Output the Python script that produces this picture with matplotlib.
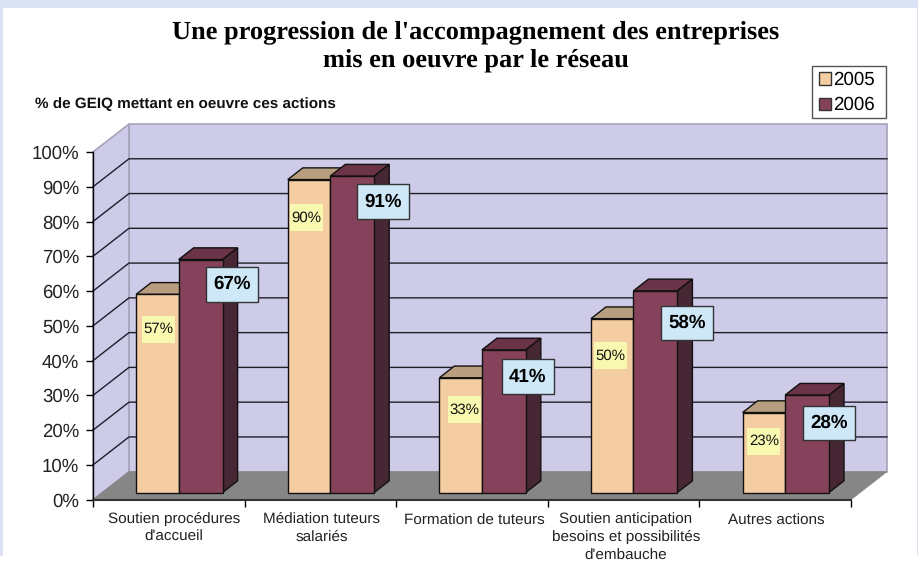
import matplotlib
matplotlib.use("Agg")
from matplotlib import pyplot as plt
from matplotlib.patches import Polygon, Rectangle, Patch

categories = ["Soutien procédures\nd'accueil", "Médiation tuteurs\nsalariés", "Formation de tuteurs",
              "Soutien anticipation\nbesoins et possibilités\nd'embauche", "Autres actions"]
val_2005 = [57, 90, 33, 50, 23]
val_2006 = [67, 91, 41, 58, 28]
y_ticks = [0, 10, 20, 30, 40, 50, 60, 70, 80, 90, 100]

# label offsets from the bar centre / top, in pixels
low_dx = [1, -2.5, 4, -1.7, 0]
low_dy = [34.8, 38, 32, 37, 28.5]
high_dx = [31, 31, 23.7, 31.4, 22]
high_dy = [24.8, 25.6, 26.8, 32, 27.7]
label_shift = [0.033, 0.01, 0.017, 0.015, 0.007]
label_y = [-3.4, -3.4, -4.0, -3.4, -4.0]

W, H = 918, 565
CAT_PX = 151.6
PCT_PX = 3.477
plt.rcParams['font.family'] = ['Liberation Sans', 'DejaVu Sans']
plt.rcParams['text.hinting'] = 'no_hinting'

fig = plt.figure(figsize=(W / 100, H / 100), dpi=100, facecolor='white')
ax = fig.add_axes([93 / W, (H - 499.7) / H, 758 / W, 347.7 / H])
ax.set_xlim(0, 5)
ax.set_ylim(0, 100)
ax.patch.set_visible(False)

# page background border
for x0, y0, w, h in [(0, 0, W, 8), (0, 0, 3, 556), (917, 0, 1, 556)]:
    fig.patches.append(Rectangle((x0 / W, 1 - (y0 + h) / H), w / W, h / H, transform=fig.transFigure,
                                 facecolor='#DBE2F4', edgecolor='none', figure=fig))

# depth of the fake 3d, in data units
wall_dx = 36 / CAT_PX
wall_dy = 28 / PCT_PX
bar_dx = 15 / CAT_PX
bar_dy = 11.7 / PCT_PX
base = 7.2 / PCT_PX
w1 = 0.28
w2 = 0.29
start = 0.285

wall = '#CDCBE8'
wall_edge = '#A5A3B8'
ax.add_patch(Polygon([(wall_dx, wall_dy), (5 + wall_dx, wall_dy), (5 + wall_dx, 100 + wall_dy), (wall_dx, 100 + wall_dy)],
                     facecolor=wall, edgecolor=wall_edge, lw=1.2, clip_on=False, zorder=1))
ax.add_patch(Polygon([(0, 0), (wall_dx, wall_dy), (wall_dx, 100 + wall_dy), (0, 100)],
                     facecolor=wall, edgecolor=wall_edge, lw=1.2, clip_on=False, zorder=1))
ax.add_patch(Polygon([(0, 0), (5, 0), (5 + wall_dx, wall_dy), (wall_dx, wall_dy)],
                     facecolor='#868686', edgecolor='#868686', lw=0.5, clip_on=False, zorder=1.5))

# grid lines on the two walls
for t in y_ticks[1:-1]:
    ax.plot([0, wall_dx, 5 + wall_dx], [t, t + wall_dy, t + wall_dy], color='#1E1E2A', lw=1.0,
            clip_on=False, zorder=2, solid_joinstyle='miter')


def draw_bar(x, w, v, front, top, side, z):
    y0 = base
    y1 = base + v
    ax.add_patch(Polygon([(x, y1), (x + w, y1), (x + w + bar_dx, y1 + bar_dy), (x + bar_dx, y1 + bar_dy)],
                         facecolor=top, edgecolor='#111111', lw=1, zorder=z, clip_on=False))
    ax.add_patch(Polygon([(x + w, y0), (x + w + bar_dx, y0 + bar_dy), (x + w + bar_dx, y1 + bar_dy), (x + w, y1)],
                         facecolor=side, edgecolor='#111111', lw=1, zorder=z, clip_on=False))
    ax.add_patch(Rectangle((x, y0), w, v, facecolor=front, edgecolor='#111111', lw=1, zorder=z + 0.1, clip_on=False))


for i in range(5):
    x1 = i + start
    x2 = x1 + w1
    draw_bar(x1, w1, val_2005[i], '#F4CDA2', '#B89E7E', '#8A7358', 3)
    draw_bar(x2, w2, val_2006[i], '#86425A', '#6A3347', '#472733', 3.5)

    # small label 2005
    cx = x1 + w1 / 2 + low_dx[i] / CAT_PX
    cy = base + val_2005[i] - low_dy[i] / PCT_PX
    ax.add_patch(Rectangle((cx - 16.5 / CAT_PX, cy - 13.5 / PCT_PX), 33 / CAT_PX, 27 / PCT_PX,
                           facecolor='#F8F8B0', edgecolor='none', zorder=5, clip_on=False))
    ax.text(cx, cy, "%d%%" % val_2005[i], ha='center', va='center', fontsize=10.8, color='#111111', zorder=6)

    # big label 2006
    cx = x2 + w2 / 2 + high_dx[i] / CAT_PX
    cy = base + val_2006[i] - high_dy[i] / PCT_PX
    ax.add_patch(Rectangle((cx - 26 / CAT_PX, cy - 17.3 / PCT_PX), 52 / CAT_PX, 34.6 / PCT_PX,
                           facecolor='#CFE8F8', edgecolor='#333333', lw=1, zorder=7, clip_on=False))
    ax.text(cx, cy, "%d%%" % val_2006[i], ha='center', va='center', fontsize=13.5, fontweight='bold',
            color='black', zorder=8)

    ax.text(i + 0.5 + label_shift[i], label_y[i], categories[i], ha='center', va='top', fontsize=11,
            color='#222222', linespacing=1.42, clip_on=False)

# axes
for s in ['top', 'right']:
    ax.spines[s].set_visible(False)
ax.spines['left'].set_color('black')
ax.spines['left'].set_linewidth(1)
ax.spines['bottom'].set_color('#333333')
ax.spines['bottom'].set_linewidth(1.5)
ax.spines['left'].set_zorder(9)
ax.spines['bottom'].set_zorder(9)
ax.set_xticks(range(6))
ax.set_xticklabels([])
ax.set_yticks(y_ticks)
ax.set_yticklabels(["%d%%" % t for t in y_ticks], fontsize=13.4, color='#222222')
ax.tick_params(axis='both', length=5, width=1, color='black', pad=5)

# titles
fig.text(475.5 / W, 1 - 32 / H, "Une progression de l'accompagnement des entreprises",
         family='Liberation Serif', fontweight='bold', fontsize=19, ha='center', va='center')
fig.text(475.5 / W, 1 - 60 / H, "mis en oeuvre par le réseau",
         family='Liberation Serif', fontweight='bold', fontsize=19, ha='center', va='center')
fig.text(35 / W, 1 - 104 / H, "% de GEIQ mettant en oeuvre ces actions", fontweight='bold', fontsize=11,
         ha='left', va='center', color='#111111')

# legend frame is drawn apart, the right margin is wider than the left one
fig.patches.append(Rectangle((812.3 / W, 1 - 118 / H), 73.4 / W, 52.3 / H, transform=fig.transFigure,
                             facecolor='white', edgecolor='#555555', lw=1, figure=fig))
leg = fig.legend(handles=[Patch(facecolor='#F4CDA2', edgecolor='#333333', label='2005'),
                          Patch(facecolor='#86425A', edgecolor='#333333', label='2006')],
                 loc='upper left', bbox_to_anchor=(813.4 / W, 1 - 65.7 / H), fontsize=13.5, frameon=False,
                 handlelength=0.62, handleheight=0.62, handletextpad=0.15, labelspacing=0.4,
                 borderpad=0.3, borderaxespad=0)

fig.savefig("out.png", dpi=100, facecolor='white')
